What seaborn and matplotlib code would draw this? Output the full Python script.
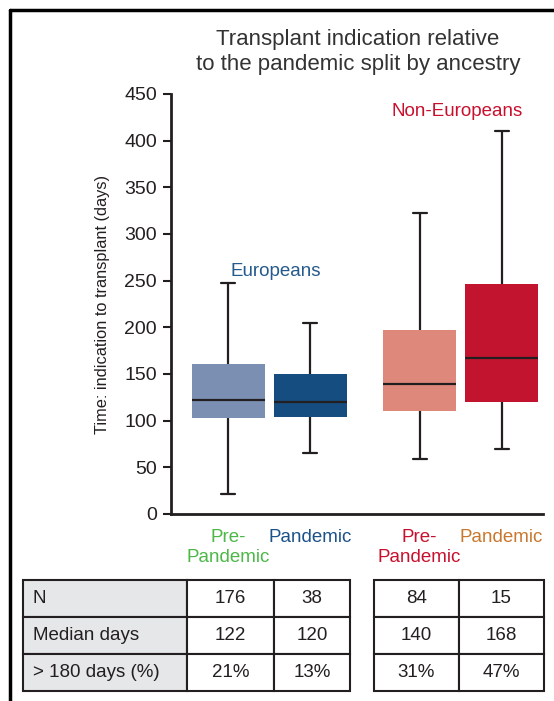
import numpy as np
import pandas as pd
import matplotlib
matplotlib.use('Agg')
import matplotlib.pyplot as plt
from matplotlib.lines import Line2D
import seaborn as sns

# Data
groups = ['Europeans Pre-Pandemic', 'Europeans Pandemic',
          'Non-Europeans Pre-Pandemic', 'Non-Europeans Pandemic']
tick_labels = ['Pre-\nPandemic', 'Pandemic', 'Pre-\nPandemic', 'Pandemic']
whisker_low = [21, 65, 59, 69.5]
q1 = [103, 104, 110, 120]
median = [122, 120, 139, 167]
q3 = [161, 150, 197, 246.5]
whisker_high = [247, 205, 322.5, 410.5]

n_patients = [176, 38, 84, 15]
median_days = [122, 120, 140, 168]
over_180 = ['21%', '13%', '31%', '47%']
row_labels = ['N', 'Median days', '> 180 days (%)']

# Layout / style
positions = [0, 1, 2.33, 3.33]
box_colors = ['#7b8fb3', '#154d80', '#de887c', '#c2142f']
label_colors = ['#4cb848', '#1b5289', '#c8102e', '#c8782e']
dark = '#231f20'
W, H = 554, 701

sns.set_style('ticks')
plt.rcParams['font.family'] = ['Liberation Sans', 'DejaVu Sans']

fig = plt.figure(figsize=(W / 100, H / 100), dpi=100)
ax = fig.add_axes([171 / W, 1 - 514 / H, (543 - 171) / W, (514 - 94) / H])

rows = []
for g, pos, lo, a, m, b, hi in zip(groups, positions, whisker_low, q1, median, q3, whisker_high):
    for v in (lo, a, m, b, hi):
        rows.append({'group': g, 'pos': pos, 'days': v})
df = pd.DataFrame(rows)

sns.boxplot(data=df, x='pos', y='days', hue='group',
            palette=dict(zip(groups, box_colors)), saturation=1,
            native_scale=True, dodge=False, width=0.89, whis=(0, 100),
            legend=False, linecolor=dark, linewidth=1.6, capwidths=0.17,
            boxprops=dict(edgecolor='none'), showfliers=False, ax=ax)
for p in ax.patches:
    p.set_edgecolor('none')

ax.set_xlim(-0.70, 3.835)
ax.set_ylim(0, 450)
ax.set_yticks(range(0, 451, 50))
ax.set_xticks(positions)
ax.set_xticklabels(tick_labels, fontsize=13.5, multialignment='center')
for lab, c in zip(ax.get_xticklabels(), label_colors):
    lab.set_color(c)
ax.tick_params(axis='x', length=0, pad=11)
ax.tick_params(axis='y', length=6, width=1.5, color=dark, labelsize=14,
               labelcolor=dark, pad=4)
sns.despine(ax=ax)
for s in ('left', 'bottom'):
    ax.spines[s].set_linewidth(2)
    ax.spines[s].set_color(dark)
ax.set_xlabel('')
ax.set_ylabel('Time: indication to transplant (days)', fontsize=11.8, color=dark,
              fontstretch='condensed')
ax.yaxis.set_label_coords(-0.165, 0.5)

ax.text(0.58, 260, 'Europeans', ha='center', va='center', fontsize=13.5,
        color='#255a8c')
ax.text(2.79, 431, 'Non-Europeans', ha='center', va='center', fontsize=13.5,
        color='#c8102e')

fig.text(358 / W, 1 - 52 / H,
         'Transplant indication relative\nto the pandemic split by ancestry',
         ha='center', va='center', fontsize=16, color='#333333', linespacing=1.3)

# Summary tables
def draw_table(rect, cells, widths, first_gray):
    tax = fig.add_axes(rect)
    tax.axis('off')
    tbl = tax.table(cellText=cells, colWidths=widths, bbox=[0, 0, 1, 1],
                    cellLoc='center')
    tbl.auto_set_font_size(False)
    for (r, c), cell in tbl.get_celld().items():
        cell.set_edgecolor(dark)
        cell.set_linewidth(1.5)
        cell.set_text_props(fontsize=13.5, color=dark)
        if first_gray and c == 0:
            cell.set_facecolor('#e6e7e8')
            cell.set_text_props(ha='left')
            cell.PAD = 0.06
    return tbl

left_cells = [[row_labels[0]] + [str(v) for v in n_patients[:2]],
              [row_labels[1]] + [str(v) for v in median_days[:2]],
              [row_labels[2]] + over_180[:2]]
right_cells = [[str(v) for v in n_patients[2:]],
               [str(v) for v in median_days[2:]],
               over_180[2:]]
draw_table([23 / W, 1 - 691 / H, 327 / W, 111 / H], left_cells,
           [164 / 327, 87 / 327, 76 / 327], True)
draw_table([374 / W, 1 - 691 / H, 170 / W, 111 / H], right_cells,
           [0.5, 0.5], False)

# Outer frame
fig.add_artist(Line2D([10 / W, 10 / W], [0, 1 - 10 / H], transform=fig.transFigure,
                      color='black', lw=2.5))
fig.add_artist(Line2D([10 / W, 1], [1 - 10 / H, 1 - 10 / H], transform=fig.transFigure,
                      color='black', lw=2.5))

fig.savefig('out.png', dpi=100)
